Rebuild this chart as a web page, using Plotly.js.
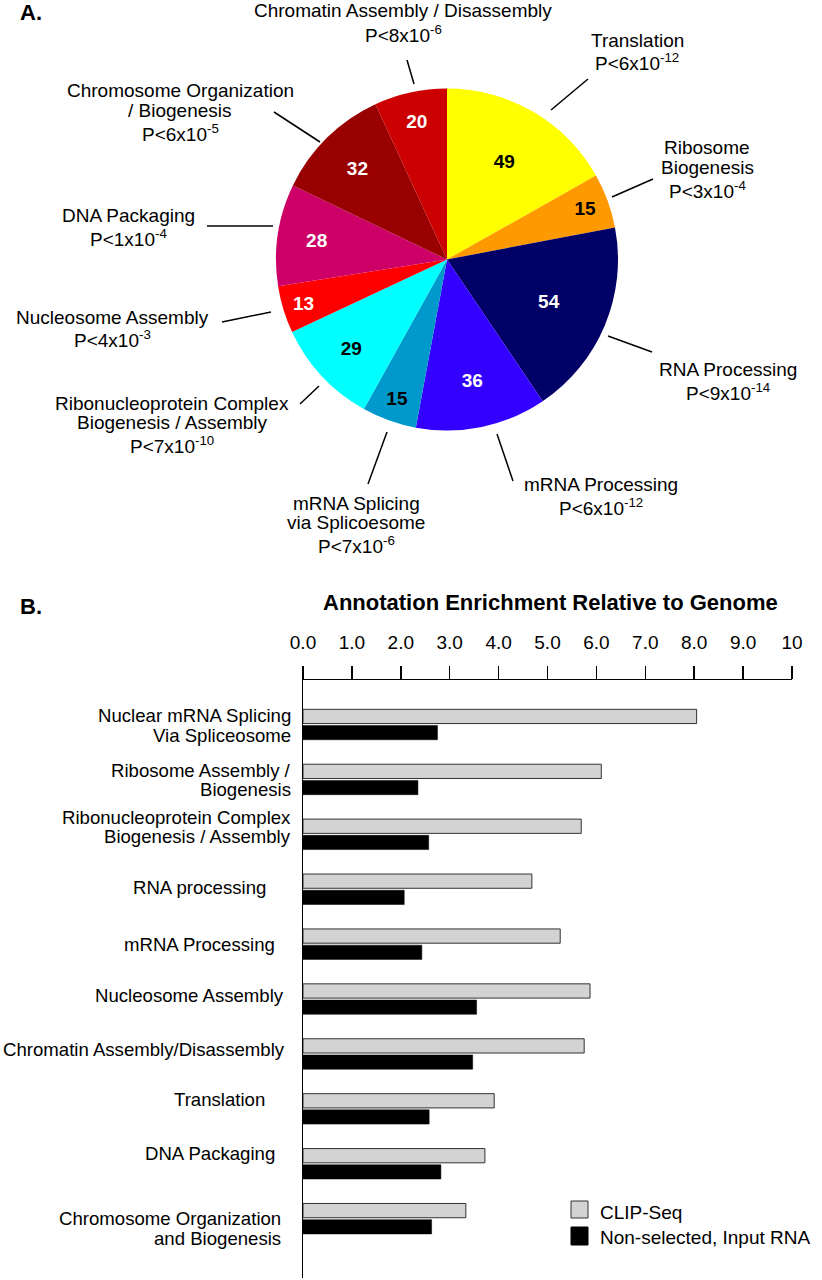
<!DOCTYPE html>
<html><head><meta charset="utf-8">
<script src="https://cdn.plot.ly/plotly-3.0.1.min.js"></script>
<style>html,body{margin:0;padding:0;background:#fff}#chart{width:822px;height:1280px}</style>
</head><body><div id="chart"></div>
<script>
// ---------- Panel A data (pie) ----------
const pieCategories = ["Translation", "Ribosome<br>Biogenesis", "RNA Processing", "mRNA Processing",
  "mRNA Splicing<br>via Splicoesome", "Ribonucleoprotein Complex<br>Biogenesis / Assembly",
  "Nucleosome Assembly", "DNA Packaging", "Chromosome Organization<br>/ Biogenesis",
  "Chromatin Assembly / Disassembly"];
const pieCounts = [49, 15, 54, 36, 15, 29, 13, 28, 32, 20];
const piePValues = ["P&lt;6x10<sup>-12</sup>", "P&lt;3x10<sup>-4</sup>", "P&lt;9x10<sup>-14</sup>",
  "P&lt;6x10<sup>-12</sup>", "P&lt;7x10<sup>-6</sup>", "P&lt;7x10<sup>-10</sup>", "P&lt;4x10<sup>-3</sup>",
  "P&lt;1x10<sup>-4</sup>", "P&lt;6x10<sup>-5</sup>", "P&lt;8x10<sup>-6</sup>"];

// ---------- Panel B data (bars) ----------
const barCategories = ["Nuclear mRNA Splicing<br>Via Spliceosome", "Ribosome Assembly /<br>Biogenesis",
  "Ribonucleoprotein Complex<br>Biogenesis / Assembly", "RNA processing", "mRNA Processing",
  "Nucleosome Assembly", "Chromatin Assembly/Disassembly", "Translation", "DNA Packaging",
  "Chromosome Organization<br>and Biogenesis"];
const clipSeqValues = [8.05, 6.10, 5.69, 4.68, 5.26, 5.87, 5.75, 3.91, 3.72, 3.33];
const inputRnaValues = [2.75, 2.35, 2.57, 2.07, 2.43, 3.55, 3.47, 2.58, 2.82, 2.63];
const seriesNames = ["CLIP-Seq", "Non-selected, Input RNA"];
const xTickValues = [0, 1, 2, 3, 4, 5, 6, 7, 8, 9, 10];
const xTickLabels = ["0.0", "1.0", "2.0", "3.0", "4.0", "5.0", "6.0", "7.0", "8.0", "9.0", "10"];
const barTitle = "Annotation Enrichment Relative to Genome";

// ---------- styling / layout ----------
const W = 822, H = 1280;
const FONT = "Liberation Sans, Arial, Helvetica, sans-serif";
const px = x => x / W;
const py = y => 1 - y / H;

const sliceColors = ["#ffff00", "#ff9900", "#000066", "#3300ff", "#0099cc", "#00ffff",
  "#ff0000", "#cc0066", "#990000", "#cc0000"];
const sliceTextColors = ["#000", "#000", "#fff", "#fff", "#000", "#000", "#fff", "#fff", "#fff", "#fff"];
const seriesFill = ["#d3d3d3", "#000000"];
const seriesLine = ["#333333", "#000000"];

const pieCx = 447, pieCy = 259.5, pieR = 171;

// label placement for pie (center x, line center y's) and leader lines
const pieLabelPos = [
  {x: 637, y: [40, 65]},
  {x: 707, y: [148, 167, 193]},
  {x: 728, y: [369, 395]},
  {x: 601, y: [484, 510]},
  {x: 356, y: [503, 522, 548]},
  {x: 172, y: [403, 422, 448]},
  {x: 112, y: [317, 342]},
  {x: 128, y: [215, 241]},
  {x: 180, y: [91, 110, 136]},
  {x: 403, y: [11, 37]}
];
const leaderLines = [
  [551, 110, 588, 79], [612, 197, 653, 179], [608, 336, 652, 352], [497, 434, 513, 481],
  [387, 432, 368, 484], [300, 404, 319, 386], [222, 322, 271, 312], [207, 226, 273, 226],
  [274, 112, 320, 142], [407, 60, 414, 84]
];

// bar label placement: right edge px and vertical offset (px, + = down)
const barLabelRight = [293, 293, 293, 268, 277, 286, 287, 267, 277, 283];
const barLabelOffset = [1, 0.5, -7.5, -2, 0, -4, -4, -9, -10, 10];

// manual legend placement (px)
const legendBox = {x0: 571, x1: 588, rows: [[1201, 1218], [1227, 1245]], textX: 598, textY: [1212, 1237]};

const annotations = [];
const SUPSHIFT = 3;
pieCategories.forEach((name, i) => {
  const lines = name.split("<br>").concat([piePValues[i]]);
  lines.forEach((t, j) => {
    const isP = j === lines.length - 1;
    annotations.push({
      xref: "paper", yref: "paper", x: px(pieLabelPos[i].x),
      y: py(pieLabelPos[i].y[j] - (isP ? SUPSHIFT : 0)),
      xanchor: "center", yanchor: "middle", showarrow: false, text: t,
      font: {family: FONT, size: 19, color: "#000"}
    });
  });
});
barCategories.forEach((name, i) => {
  const lines = name.split("<br>");
  const n = lines.length;
  lines.forEach((t, j) => {
    annotations.push({
      xref: "paper", yref: "y", x: px(barLabelRight[i]), y: i,
      xanchor: "right", yanchor: "middle", showarrow: false, text: t,
      yshift: -barLabelOffset[i] + ((n - 1) / 2 - j) * 19.5,
      font: {family: FONT, size: 18.6, color: "#000"}
    });
  });
});
seriesNames.forEach((s, k) => {
  annotations.push({
    xref: "paper", yref: "paper", x: px(legendBox.textX), y: py(legendBox.textY[k]),
    xanchor: "left", yanchor: "middle", showarrow: false, text: s,
    font: {family: FONT, size: 19, color: "#000"}
  });
});
annotations.push({xref: "paper", yref: "paper", x: px(18), y: py(13), xanchor: "left", yanchor: "middle",
  showarrow: false, text: "A.", font: {family: FONT, size: 22, color: "#000", weight: 700}});
annotations.push({xref: "paper", yref: "paper", x: px(18), y: py(606), xanchor: "left", yanchor: "middle",
  showarrow: false, text: "B.", font: {family: FONT, size: 22, color: "#000", weight: 700}});
annotations.push({xref: "paper", yref: "paper", x: px(550), y: py(602), xanchor: "center", yanchor: "middle",
  showarrow: false, text: barTitle, font: {family: FONT, size: 22, color: "#000", weight: 700}});

const shapes = leaderLines.map(l => ({
  type: "line", xref: "paper", yref: "paper",
  x0: px(l[0]), y0: py(l[1]), x1: px(l[2]), y1: py(l[3]),
  line: {color: "#000", width: 1.5}
}));
seriesNames.forEach((s, k) => {
  shapes.push({
    type: "rect", xref: "paper", yref: "paper",
    x0: px(legendBox.x0), x1: px(legendBox.x1),
    y0: py(legendBox.rows[k][1]), y1: py(legendBox.rows[k][0]),
    fillcolor: seriesFill[k], line: {color: seriesLine[k], width: 1}
  });
});

const traces = [
  {
    type: "pie", values: pieCounts, labels: pieCategories, sort: false, direction: "clockwise",
    rotation: 0, marker: {colors: sliceColors, line: {width: 0}},
    textinfo: "value", textposition: "inside", insidetextorientation: "horizontal",
    insidetextfont: {family: FONT, size: 19, color: sliceTextColors, weight: 700},
    domain: {x: [px(pieCx - pieR), px(pieCx + pieR)], y: [py(pieCy + pieR), py(pieCy - pieR)]},
    showlegend: false, hoverinfo: "none"
  },
  {
    type: "bar", orientation: "h", name: seriesNames[0], x: clipSeqValues, y: barCategories,
    marker: {color: seriesFill[0], line: {color: seriesLine[0], width: 1}}, xaxis: "x", yaxis: "y",
    hoverinfo: "none", showlegend: false
  },
  {
    type: "bar", orientation: "h", name: seriesNames[1], x: inputRnaValues, y: barCategories,
    marker: {color: seriesFill[1], line: {color: seriesLine[1], width: 0.5}}, xaxis: "x", yaxis: "y",
    hoverinfo: "none", showlegend: false
  }
];

const layout = {
  width: W, height: H, margin: {l: 0, r: 0, t: 0, b: 0},
  paper_bgcolor: "#fff", plot_bgcolor: "rgba(0,0,0,0)",
  font: {family: FONT, size: 19, color: "#000"},
  barmode: "group", bargap: 0.41, bargroupgap: 0.12,
  xaxis: {
    domain: [px(303), px(792)], range: [0, 10], side: "top", anchor: "y",
    showline: true, linecolor: "#000", linewidth: 1.5, ticks: "outside", ticklen: 13,
    tickwidth: 1.5, tickcolor: "#000", tickmode: "array", tickvals: xTickValues, ticktext: xTickLabels,
    ticklabelstandoff: 9,
    showgrid: false, zeroline: false, tickfont: {family: FONT, size: 19, color: "#000"}
  },
  yaxis: {
    domain: [py(1278), py(680)], type: "category", range: [10.08, -0.811], anchor: "x",
    showline: true, linecolor: "#000", linewidth: 1.5, showticklabels: false, ticks: "",
    showgrid: false, zeroline: false
  },
  showlegend: false,
  annotations: annotations, shapes: shapes
};

Plotly.newPlot("chart", traces, layout, {staticPlot: true, displayModeBar: false});
</script></body></html>
